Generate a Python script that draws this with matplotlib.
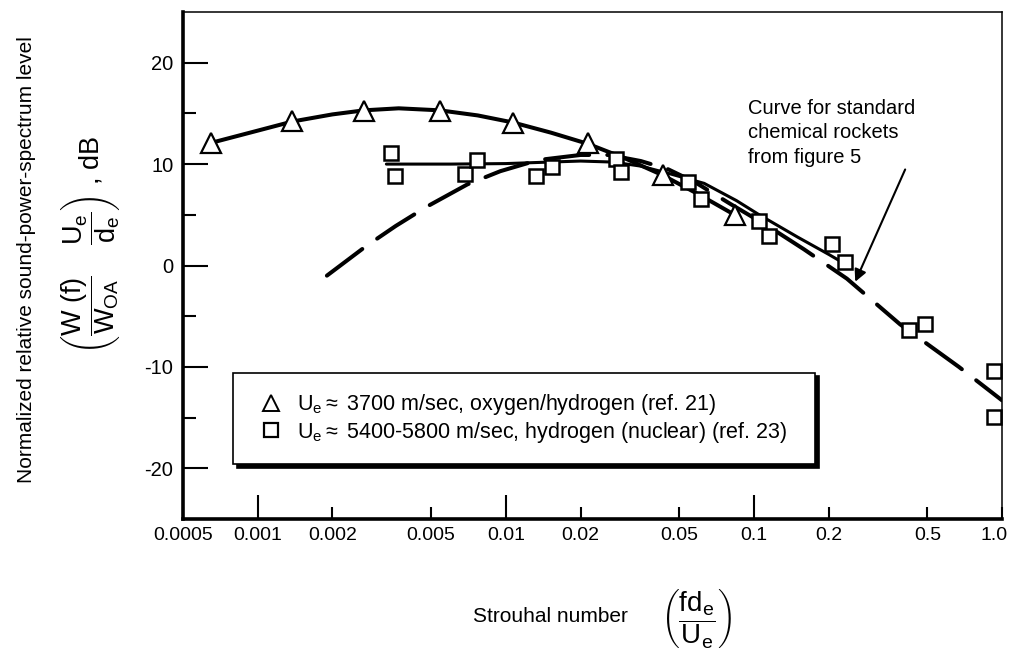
import matplotlib
matplotlib.use('Agg')
import matplotlib.pyplot as plt
import matplotlib.transforms as mtransforms
from matplotlib.lines import Line2D

plt.rcParams['font.family'] = ['Liberation Sans', 'DejaVu Sans']
plt.rcParams['mathtext.fontset'] = 'custom'
plt.rcParams['mathtext.rm'] = 'Liberation Sans'
plt.rcParams['mathtext.it'] = 'Liberation Sans'
plt.rcParams['mathtext.bf'] = 'Liberation Sans:bold'
plt.rcParams['axes.unicode_minus'] = False

# data
tri_x = [0.00065, 0.00138, 0.00268, 0.00542, 0.0107, 0.0214, 0.0429, 0.0835]
tri_y = [12.1, 14.2, 15.2, 15.2, 14.1, 12.1, 8.9, 5.0]

sq_x = [0.00344, 0.00357, 0.00684, 0.00764, 0.0132, 0.0153, 0.0277, 0.0290,
        0.054, 0.061, 0.105, 0.1154, 0.207, 0.233, 0.423, 0.490, 0.93, 0.93]
sq_y = [11.1, 8.8, 9.0, 10.4, 8.8, 9.75, 10.5, 9.2,
        8.2, 6.6, 4.4, 2.9, 2.1, 0.3, -6.4, -5.8, -10.4, -14.9]

# faired curves as drawn in the figure
tri_curve_x = [0.00065, 0.001, 0.00138, 0.002, 0.00268, 0.0037, 0.00542, 0.0077,
               0.0107, 0.0152, 0.0214, 0.03, 0.0429, 0.06, 0.0835]
tri_curve_y = [12.1, 13.3, 14.2, 14.9, 15.3, 15.5, 15.3, 14.8,
               14.1, 13.1, 12.0, 10.6, 8.9, 7.0, 5.0]

sq_curve_x = [0.0033, 0.006, 0.01, 0.015, 0.02, 0.027, 0.035, 0.045,
              0.063, 0.085, 0.105, 0.15, 0.2, 0.235]
sq_curve_y = [10.0, 10.0, 10.05, 10.2, 10.3, 10.2, 9.8, 9.1,
              8.1, 6.4, 5.0, 2.8, 1.1, 0.1]

chem_x = [0.0019, 0.00273, 0.0036, 0.0048, 0.007, 0.0095, 0.0135, 0.02, 0.026,
          0.035, 0.045, 0.058, 0.08, 0.117, 0.159, 0.237, 0.388, 0.67, 1.0]
chem_y = [-1.0, 1.9, 3.9, 5.8, 8.0, 9.3, 10.4, 10.9, 10.9,
          10.3, 9.5, 8.2, 6.1, 3.7, 1.6, -1.3, -5.8, -10.0, -13.3]

x_major = [0.001, 0.01, 0.1]
x_major_labels = ['0.001', '0.01', '0.1']
x_minor = [0.0005, 0.002, 0.005, 0.02, 0.05, 0.2, 0.5, 1.0]
x_minor_labels = ['0.0005', '0.002', '0.005', '0.02', '0.05', '0.2', '0.5', '1.0']
y_major = [-20, -10, 0, 10, 20]
y_minor = [-15, -5, 5, 15]

legend_labels = [r'$\mathrm{U_e}\approx$ 3700 m/sec, oxygen/hydrogen (ref. 21)',
                 r'$\mathrm{U_e}\approx$ 5400-5800 m/sec, hydrogen (nuclear) (ref. 23)']

fig = plt.figure(figsize=(10.13, 6.58), dpi=100)
ax = fig.add_axes([0.1807, 0.2112, 0.8085, 0.7706])

ax.plot(chem_x, chem_y, color='black', lw=2.9, linestyle=(0, (11, 4.5)),
        dash_capstyle='round', zorder=2)
ax.plot(tri_curve_x, tri_curve_y, color='black', lw=2.9, zorder=2,
        solid_capstyle='round')
ax.plot(sq_curve_x, sq_curve_y, color='black', lw=2.2, zorder=2,
        solid_capstyle='round')
ax.plot(tri_x, tri_y, linestyle='none', marker='^', ms=14, mfc='white',
        mec='black', mew=1.6, zorder=3)
ax.plot(sq_x, sq_y, linestyle='none', marker='s', ms=10.5, mfc='white',
        mec='black', mew=1.8, zorder=3, clip_on=False)

ax.set_xscale('log')
ax.set_xlim(0.0005, 1.0)
ax.set_ylim(-25, 25)

ax.set_xticks(x_major)
ax.set_xticklabels(x_major_labels)
ax.set_xticks(x_minor, minor=True)
ax.set_xticklabels(x_minor_labels, minor=True)
ax.set_yticks(y_major)
ax.set_yticks(y_minor, minor=True)

ax.tick_params(axis='x', which='major', direction='in', length=17, width=1.5,
               labelsize=14, pad=6, top=False)
ax.tick_params(axis='x', which='minor', direction='in', length=8.5, width=1.5,
               labelsize=14, pad=6, top=False)
ax.tick_params(axis='y', which='major', direction='in', length=18, width=1.5,
               labelsize=14.5, pad=7, right=False)
ax.tick_params(axis='y', which='minor', direction='in', length=9, width=1.5,
               right=False)

# the last label sits on the right edge of the figure: nudge it inward a little
shift = mtransforms.ScaledTranslation(-6 / 72, 0, fig.dpi_scale_trans)
last_tick = ax.xaxis.get_minor_ticks()[len(x_minor) - 1]
last_tick.label1.set_transform(last_tick.label1.get_transform() + shift)

ax.spines['left'].set_linewidth(2.6)
ax.spines['bottom'].set_linewidth(2.6)
ax.spines['top'].set_linewidth(1.1)
ax.spines['right'].set_linewidth(1.1)

handles = [Line2D([], [], linestyle='none', marker='^', ms=12, mfc='white',
                  mec='black', mew=1.4),
           Line2D([], [], linestyle='none', marker='s', ms=9.5, mfc='white',
                  mec='black', mew=1.6)]
leg = ax.legend(handles, legend_labels, loc='upper left',
                bbox_to_anchor=(0.061, 0.103, 0.711, 0.185), mode='expand',
                fontsize=15.5, frameon=True, fancybox=False, edgecolor='black',
                framealpha=1, borderpad=0.9, labelspacing=0.12,
                handlelength=1.75, handletextpad=0.3, borderaxespad=0,
                shadow={'ox': 3, 'oy': -2.5, 'color': 'black', 'alpha': 1})
leg.get_frame().set_linewidth(1.2)

ax.annotate('Curve for standard\nchemical rockets\nfrom figure 5',
            xy=(0.256, -1.6), xytext=(0.0942, 16.4),
            fontsize=14.5, ha='left', va='top', linespacing=1.35,
            arrowprops=dict(arrowstyle='-|>', lw=1.5, color='black',
                            mutation_scale=18, shrinkA=0, shrinkB=0,
                            relpos=(0.95, 0.0)))

fig.text(27 / 1013, 1 - 260 / 658, 'Normalized relative sound-power-spectrum level',
         rotation=90, ha='center', va='center', fontsize=15)
fig.text(90 / 1013, 1 - 245 / 658,
         r'$\left(\dfrac{\mathrm{W\ (f)}}{\mathrm{W_{OA}}}\quad\;\dfrac{\mathrm{U_e}}{\mathrm{d_e}}\right)$ , dB',
         rotation=90, ha='center', va='center', fontsize=19.5)

fig.text(550 / 1013, 1 - 616 / 658, 'Strouhal number', ha='center', va='center',
         fontsize=15)
fig.text(697 / 1013, 1 - 618 / 658,
         r'$\left(\dfrac{\mathrm{fd_e}}{\mathrm{U_e}}\right)$',
         ha='center', va='center', fontsize=20)

fig.savefig('out.png', dpi=100)
